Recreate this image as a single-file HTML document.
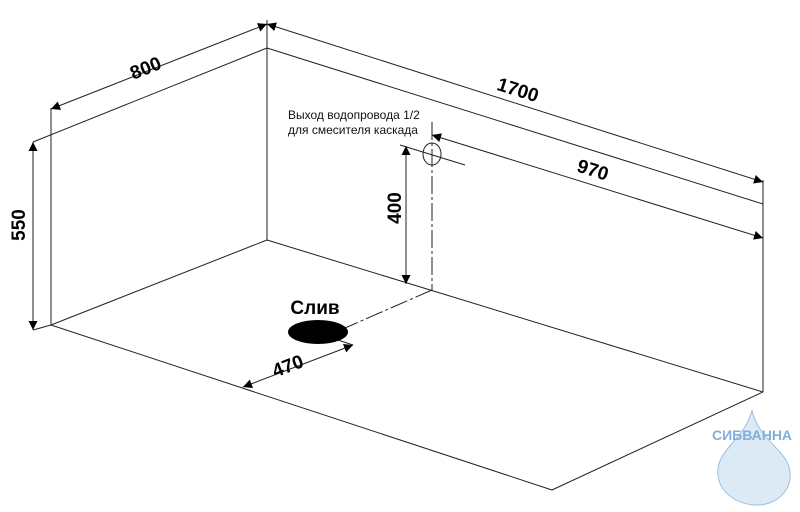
<!DOCTYPE html>
<html><head><meta charset="utf-8"><style>
html,body{margin:0;padding:0;background:#fff}
svg{display:block}
text{font-family:"Liberation Sans",Arial,sans-serif}
</style></head><body>
<svg width="800" height="512" viewBox="0 0 800 512" xmlns="http://www.w3.org/2000/svg">
<defs>
<marker id="a" viewBox="0 0 10 10" refX="10" refY="5" markerWidth="18" markerHeight="9" markerUnits="userSpaceOnUse" orient="auto-start-reverse"><path d="M0,0L10,5L0,10z" fill="#000"/></marker>
</defs>
<g stroke="#222" stroke-width="1" fill="none">
<line x1="267" y1="48" x2="267" y2="240"/>
<line x1="33" y1="142" x2="267" y2="48"/>
<line x1="267" y1="48" x2="763" y2="204"/>
<line x1="267" y1="240" x2="51" y2="325"/>
<line x1="267" y1="240" x2="763" y2="392"/>
<line x1="51" y1="325" x2="552" y2="490"/>
<line x1="763" y1="392" x2="552" y2="490"/>
<line x1="763" y1="180" x2="763" y2="392"/>
<line x1="51" y1="108" x2="51" y2="325"/>
<line x1="33" y1="330" x2="51" y2="325"/>
<line x1="267" y1="20" x2="267" y2="48"/>
<line x1="51" y1="109" x2="267" y2="24" marker-start="url(#a)" marker-end="url(#a)"/>
<line x1="267" y1="24" x2="763" y2="182" marker-start="url(#a)" marker-end="url(#a)"/>
<line x1="33" y1="142" x2="33" y2="330" marker-start="url(#a)" marker-end="url(#a)"/>
<line x1="432" y1="135" x2="763" y2="238" marker-start="url(#a)" marker-end="url(#a)"/>
<line x1="406" y1="146" x2="406" y2="284" marker-start="url(#a)" marker-end="url(#a)"/>
<line x1="243" y1="387" x2="353" y2="345" marker-start="url(#a)" marker-end="url(#a)"/>
<line x1="400" y1="145" x2="465" y2="165"/>
<line x1="353" y1="345" x2="338" y2="340"/>
<line x1="432" y1="122" x2="432" y2="290" stroke-dasharray="18,3,3,3"/>
<line x1="432" y1="290" x2="345" y2="328" stroke-dasharray="18,3,3,3"/>
<ellipse cx="432" cy="154" rx="9" ry="11"/>
</g>
<ellipse cx="318" cy="332" rx="30" ry="12" fill="#000"/>
<g font-weight="bold" font-size="19" fill="#000">
<text transform="translate(148,74) rotate(-22)" text-anchor="middle">800</text>
<text transform="translate(516,96) rotate(17.5)" text-anchor="middle">1700</text>
<text transform="translate(591,176) rotate(17.5)" text-anchor="middle">970</text>
<text transform="translate(25,225) rotate(-90)" text-anchor="middle">550</text>
<text transform="translate(401,208) rotate(-90)" text-anchor="middle">400</text>
<text transform="translate(290,372) rotate(-21)" text-anchor="middle">470</text>
<text x="315" y="314" text-anchor="middle">Слив</text>
</g>
<text x="288" y="119" font-size="12" fill="#111">Выход водопровода 1/2</text>
<text x="288" y="134" font-size="12" fill="#111">для смесителя каскада</text>
<path d="M752,410 C745,440 715,450 718,475 C720,495 740,505 757,505 C775,505 792,492 790,472 C788,450 758,440 752,410z" fill="#dceaf6" stroke="#9cc0e0"/>
<text x="752" y="440" text-anchor="middle" font-size="14" font-weight="bold" fill="#7fb0dc">СИБВАННА</text>
</svg>
</body></html>
